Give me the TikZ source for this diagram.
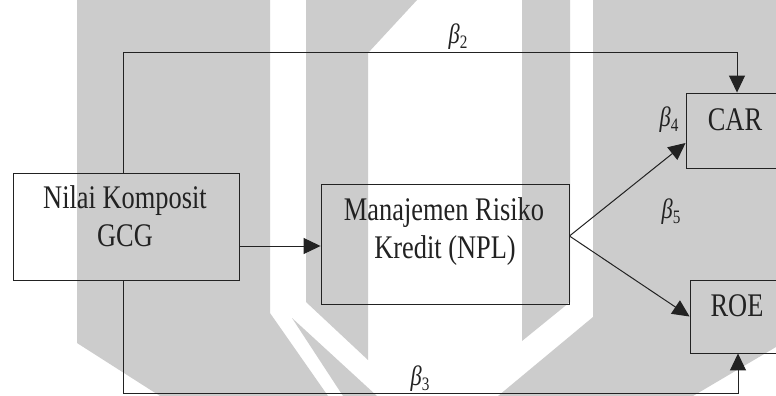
\documentclass[tikz,border=0pt]{standalone}
\usepackage{fontspec}
\setmainfont{Liberation Serif}
\usetikzlibrary{arrows.meta}
\definecolor{wm}{HTML}{CCCCCC}
\definecolor{ink}{HTML}{222222}
\newcommand{\betlab}[1]{\scalebox{0.8}[1]{\itshape β\raisebox{-0.18em}{\upshape\fontsize{19}{20}\selectfont #1}}}
\begin{document}
\begin{tikzpicture}[x=1pt,y=-1pt,
  box/.style={draw=ink, line width=0.9pt, inner sep=0pt, rectangle},
  lbl/.style={inner sep=0pt, text=ink, font=\fontsize{33}{38}\selectfont, anchor=base},
  blbl/.style={inner sep=0pt, text=ink, font=\fontsize{28}{30}\selectfont},
  conn/.style={draw=ink, line width=1pt, -{Triangle[length=17pt,width=16pt]}}]
\useasboundingbox (0,0) rectangle (776,396);
\fill[white] (0,0) rectangle (776,396);
% watermark
\fill[wm] (77,0) -- (270,0) -- (270,313) -- (328,396) -- (160,396) -- (77,343) -- cycle;
\fill[wm] (292,318) -- (377,396) -- (343,396) -- cycle;
\fill[wm] (306,0) -- (417,0) -- (368,53) -- (368,360) -- (306,302) -- cycle;
\fill[wm] (522,0) -- (570,0) -- (570,302) -- (522,341) -- cycle;
\fill[wm] (593,0) -- (776,0) -- (776,347) -- (693,396) -- (498,396) -- (593,317) -- cycle;
% boxes
\node[box, minimum width=226pt, minimum height=107pt] (gcg) at (126,226.5) {};
\node[box, minimum width=248pt, minimum height=120pt] (npl) at (445,244) {};
\node[box, minimum width=104pt, minimum height=75pt] (car) at (738,130.5) {};
\node[box, minimum width=100pt, minimum height=73pt] (roe) at (740,316.5) {};
% texts
\node[lbl] (t1) at (125,208) {\scalebox{0.8}[1]{Nilai Komposit}};
\node[lbl] (t2) at (125,246) {\scalebox{0.8}[1]{GCG}};
\node[lbl] (t3) at (444,220) {\scalebox{0.8}[1]{Manajemen Risiko}};
\node[lbl] (t4) at (445,258) {\scalebox{0.8}[1]{Kredit (NPL)}};
\node[lbl] (t5) at (735,130) {\scalebox{0.8}[1]{CAR}};
\node[lbl] (t6) at (737,316) {\scalebox{0.8}[1]{ROE}};
% beta labels
\node[blbl] (b2) at (458,37) {\betlab{2}};
\node[blbl] (b4) at (669,120) {\betlab{4}};
\node[blbl] (b5) at (671,212) {\betlab{5}};
\node[blbl] (b3) at (420,379) {\betlab{3}};
% connectors
\coordinate (tc) at (737,53);
\coordinate (bc) at (738,393);
\coordinate (gn) at ([xshift=-3pt]gcg.north);
\coordinate (gs) at ([xshift=-3pt]gcg.south);
\coordinate (ge) at ([yshift=-19.5pt]gcg.east);
\coordinate (fk) at ([yshift=8pt]npl.east);
\coordinate (cw) at ([yshift=-12.5pt]car.west);
\draw[conn] (gn) |- (tc) -- (tc |- car.north);
\draw[conn] (gs) |- (bc) -- (bc |- roe.south);
\draw[conn] (ge) -- (ge -| npl.west);
\draw[conn] (fk) -- (cw);
\draw[conn] (fk) -- (roe.west);
\end{tikzpicture}
\end{document}
